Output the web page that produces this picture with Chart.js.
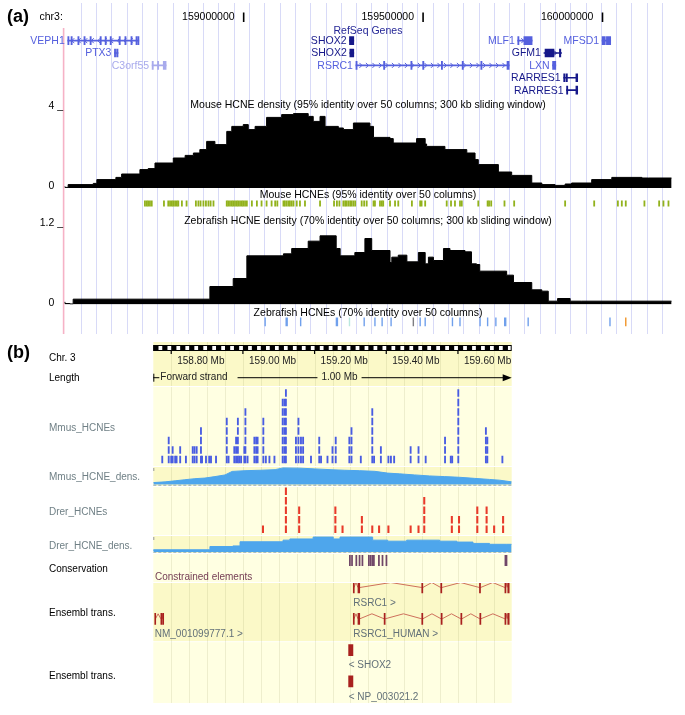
<!DOCTYPE html>
<html>
<head>
<meta charset="utf-8">
<script src="https://cdn.jsdelivr.net/npm/chart.js@4/dist/chart.umd.min.js"></script>
<style>
  body { margin: 0; background: #fff; width: 685px; height: 715px; position: relative; overflow: hidden; }
  canvas { position: absolute; left: 0; }
</style>
</head>
<body>
<script>
// ---- panel (a): UCSC view, positions in Mb on chr3 ----
const rulerTicksA = [159000000, 159500000, 160000000];

const geneNames = ["VEPH1", "PTX3", "C3orf55", "SHOX2", "SHOX2", "RSRC1", "MLF1", "MFSD1", "GFM1", "LXN", "RARRES1", "RARRES1"];
const geneRows = [0, 1, 2, 0, 1, 2, 0, 0, 1, 2, 3, 4];
const geneStarts = [158.510, 158.640, 158.745, 159.295, 159.296, 159.313, 159.764, 159.999, 159.837, 159.861, 159.892, 159.900];
const geneEnds = [158.708, 158.650, 158.784, 159.307, 159.307, 159.740, 159.804, 160.023, 159.886, 159.870, 159.931, 159.931];
const geneStrands = ["-", "", "+", "", "", "+", "+", "", "+", "", "-", "-"];
const geneShades = ["mid", "mid", "light", "dark", "dark", "mid", "mid", "mid", "dark", "mid", "dark", "dark"];
const geneExons = [
  [[158.510, 158.513], [158.519, 158.521], [158.538, 158.540], [158.555, 158.557], [158.572, 158.574], [158.600, 158.602], [158.614, 158.616], [158.628, 158.630], [158.653, 158.655], [158.669, 158.671], [158.686, 158.688], [158.700, 158.702], [158.705, 158.708]],
  [[158.640, 158.642], [158.646, 158.650]],
  [[158.745, 158.747], [158.760, 158.763], [158.776, 158.784]],
  [[159.295, 159.307]],
  [[159.296, 159.307]],
  [[159.313, 159.316], [159.390, 159.392], [159.466, 159.468], [159.499, 159.501], [159.551, 159.553], [159.609, 159.611], [159.661, 159.663], [159.734, 159.740]],
  [[159.764, 159.766], [159.781, 159.804]],
  [[159.999, 160.008], [160.011, 160.023]],
  [[159.840, 159.865], [159.880, 159.884]],
  [[159.861, 159.870]],
  [[159.892, 159.896], [159.899, 159.902], [159.926, 159.931]],
  [[159.900, 159.903], [159.926, 159.931]]
];

const mouseDensStarts = [158.502, 158.511, 158.581, 158.591, 158.644, 158.660, 158.711, 158.734, 158.753, 158.804, 158.837, 158.860, 158.878, 158.897, 158.920, 158.953, 158.967, 158.999, 159.013, 159.032, 159.064, 159.106, 159.139, 159.180, 159.194, 159.213, 159.227, 159.264, 159.278, 159.306, 159.352, 159.362, 159.408, 159.417, 159.482, 159.506, 159.510, 159.561, 159.622, 159.645, 159.654, 159.710, 159.747, 159.803, 159.831, 159.868, 159.896, 159.914, 159.970, 160.026, 160.110, 160.128];
const mouseDensValues = [0.08, 0.03, 0.17, 0.23, 0.42, 0.53, 0.70, 0.92, 0.97, 1.25, 1.50, 1.63, 1.75, 1.92, 2.33, 2.17, 2.83, 3.08, 3.17, 2.92, 3.08, 3.53, 3.67, 3.72, 3.58, 3.33, 3.58, 3.08, 3.00, 2.92, 3.25, 3.08, 2.53, 2.47, 2.25, 2.47, 2.20, 2.08, 1.92, 1.75, 1.42, 1.17, 0.80, 0.63, 0.25, 0.17, 0.13, 0.20, 0.25, 0.42, 0.53, 0.50];
const mouseDensTicks = [0, 4];

const mouseHcnePos = [158.725, 158.730, 158.734, 158.739, 158.744, 158.778, 158.790, 158.795, 158.800, 158.804, 158.809, 158.814, 158.818, 158.828, 158.841, 158.867, 158.874, 158.880, 158.888, 158.895, 158.902, 158.908, 158.916, 158.953, 158.957, 158.962, 158.967, 158.971, 158.976, 158.981, 158.985, 158.990, 158.995, 158.999, 159.004, 159.009, 159.023, 159.037, 159.050, 159.064, 159.078, 159.088, 159.094, 159.111, 159.115, 159.120, 159.125, 159.129, 159.134, 159.139, 159.148, 159.157, 159.171, 159.213, 159.252, 159.260, 159.267, 159.278, 159.283, 159.287, 159.292, 159.297, 159.301, 159.306, 159.311, 159.329, 159.336, 159.343, 159.362, 159.366, 159.380, 159.385, 159.389, 159.408, 159.422, 159.431, 159.469, 159.492, 159.496, 159.506, 159.566, 159.578, 159.589, 159.603, 159.608, 159.654, 159.680, 159.684, 159.690, 159.727, 159.754, 159.896, 159.977, 160.043, 160.054, 160.065, 160.117, 160.158, 160.170, 160.184];

const zebraDensStarts = [158.502, 158.516, 158.525, 158.906, 158.971, 159.009, 159.111, 159.134, 159.180, 159.213, 159.258, 159.269, 159.310, 159.338, 159.357, 159.408, 159.413, 159.431, 159.455, 159.487, 159.506, 159.515, 159.529, 159.557, 159.575, 159.617, 159.635, 159.649, 159.658, 159.733, 159.752, 159.803, 159.831, 159.849, 159.875, 159.910, 159.942];
const zebraDensValues = [0.04, 0.015, 0.008, 0.08, 0.27, 0.39, 0.73, 0.76, 0.84, 0.95, 1.03, 0.84, 0.73, 0.78, 0.99, 0.81, 0.63, 0.71, 0.74, 0.64, 0.78, 0.61, 0.71, 0.66, 0.84, 0.81, 0.79, 0.61, 0.60, 0.50, 0.44, 0.33, 0.22, 0.20, 0.05, 0.09, 0.05];
const zebraDensTicks = [0, 1.2];

const zebraHcnePos = [159.060, 159.120, 159.159, 159.260, 159.295, 159.336, 159.366, 159.386, 159.411, 159.473, 159.492, 159.506, 159.582, 159.603, 159.659, 159.680, 159.703, 159.729, 159.793, 160.021, 160.065];

// ---- panel (b): Ensembl view ----
const rulerTicksB = [158.8, 159.0, 159.2, 159.4, 159.6];

const mmusHcnePos = [158.775, 158.793, 158.800, 158.804, 158.811, 158.815, 158.825, 158.841, 158.860, 158.865, 158.871, 158.883, 158.886, 158.897, 158.906, 158.911, 158.925, 158.955, 158.960, 158.976, 158.981, 158.986, 158.990, 158.995, 159.004, 159.007, 159.013, 159.032, 159.037, 159.041, 159.057, 159.064, 159.074, 159.088, 159.111, 159.116, 159.120, 159.148, 159.155, 159.162, 159.168, 159.190, 159.213, 159.218, 159.236, 159.250, 159.259, 159.297, 159.303, 159.329, 159.361, 159.366, 159.385, 159.406, 159.413, 159.422, 159.468, 159.490, 159.510, 159.564, 159.580, 159.584, 159.601, 159.678, 159.682, 159.724];
const mmusHcneDepth = [1, 3, 1, 2, 1, 1, 2, 1, 2, 2, 2, 4, 1, 1, 1, 1, 1, 5, 1, 2, 3, 5, 1, 1, 2, 6, 1, 3, 3, 3, 5, 1, 1, 1, 7, 7, 8, 3, 5, 3, 3, 1, 3, 1, 1, 2, 3, 3, 4, 1, 6, 1, 2, 1, 1, 1, 2, 2, 1, 3, 1, 1, 8, 4, 3, 1];

const mmusDensBPos = [158.750, 158.783, 158.811, 158.838, 158.866, 158.894, 158.922, 158.950, 158.970, 159.006, 159.048, 159.090, 159.112, 159.159, 159.201, 159.243, 159.284, 159.326, 159.368, 159.404, 159.437, 159.479, 159.521, 159.563, 159.605, 159.646, 159.688, 159.716, 159.750];
const mmusDensBValues = [0.48, 0.64, 0.88, 1.12, 1.36, 1.50, 1.83, 2.20, 3.00, 3.17, 3.26, 3.40, 3.80, 3.74, 3.57, 3.40, 3.26, 3.17, 3.02, 2.62, 2.45, 2.21, 1.98, 1.83, 1.67, 1.43, 1.19, 1.02, 0.64];

const drerHcnePos = [159.056, 159.120, 159.157, 159.258, 159.278, 159.332, 159.361, 159.380, 159.406, 159.468, 159.490, 159.506, 159.583, 159.603, 159.654, 159.680, 159.701, 159.726];
const drerHcneDepth = [1, 5, 3, 3, 1, 2, 1, 1, 1, 1, 1, 4, 2, 2, 3, 3, 1, 2];

const drerDensBPos = [158.750, 158.908, 158.972, 158.992, 159.112, 159.131, 159.196, 159.252, 159.271, 159.362, 159.404, 159.457, 159.549, 159.597, 159.642, 159.688, 159.735];
const drerDensBValues = [0.08, 0.17, 0.39, 0.43, 0.71, 0.82, 0.90, 1.03, 0.90, 1.03, 0.82, 0.75, 0.82, 0.75, 0.69, 0.60, 0.54];

const consStarts = [159.297, 159.303, 159.315, 159.324, 159.332, 159.350, 159.355, 159.360, 159.364, 159.378, 159.388, 159.399, 159.731];
const consEnds = [159.300, 159.306, 159.318, 159.327, 159.335, 159.353, 159.358, 159.363, 159.367, 159.381, 159.391, 159.402, 159.737];

const trNames = ["RSRC1", "NM_001099777.1", "RSRC1_HUMAN", "SHOX2", "NP_003021.2"];
const trStrands = ["+", "+", "+", "-", "-"];
const trRows = [0, 1, 1, 2, 3];
const trExons = [
  [[159.308, 159.310], [159.321, 159.326], [159.499, 159.502], [159.552, 159.555], [159.660, 159.663], [159.731, 159.734], [159.739, 159.743]],
  [[158.754, 158.756], [158.771, 158.774], [158.776, 158.779]],
  [[159.308, 159.310], [159.321, 159.326], [159.394, 159.397], [159.499, 159.502], [159.553, 159.556], [159.608, 159.611], [159.661, 159.664], [159.731, 159.734], [159.739, 159.743]],
  [[159.295, 159.307]],
  [[159.295, 159.307]]
];

// ---- layout ----
const FONT = '"Liberation Sans", Arial, Helvetica, sans-serif';
const W = 685;
const A_MIN = 158.5, A_MAX = 160.193;
const B_MIN = 158.75, B_MAX = 159.75;
const padA = { left: 64.2, right: W - 671.7 };
const padB = { left: 153.3, right: W - 511.7 };
const SHADES = { mid: "rgb(85,96,222)", light: "rgb(168,170,236)", dark: "rgb(22,24,138)" };
const YELLOW = "rgb(251,249,200)";
const PALE = "rgb(255,255,226)";
const GRAYLABEL = "rgb(112,128,134)";

Chart.defaults.font.family = FONT;
Chart.defaults.animation = false;
Chart.defaults.responsive = false;
Chart.defaults.plugins.legend.display = false;
Chart.defaults.plugins.tooltip.enabled = false;

const xA = () => ({ type: "linear", min: A_MIN, max: A_MAX, display: false, offset: false });
const xB = () => ({ type: "linear", min: B_MIN, max: B_MAX, display: false, offset: false });

function makeCanvas(top, height) {
  const c = document.createElement("canvas");
  c.width = W;
  c.height = height;
  c.style.top = top + "px";
  c.dataset.top = top;
  document.body.appendChild(c);
  return c;
}

function stepPoints(starts, values, end) {
  const pts = starts.map((x, i) => ({ x, y: values[i] }));
  pts.push({ x: end, y: values[values.length - 1] });
  return pts;
}

function dashStack(pos, depth) {
  const out = [];
  pos.forEach((x, i) => {
    for (let r = 0; r < depth[i]; r++) out.push({ x, y: [r + 0.2, r + 0.92] });
  });
  return out;
}

function drawText(ctx, t, x, y, size, color, align, bold) {
  ctx.save();
  ctx.font = (bold ? "bold " : "") + size + "px " + FONT;
  ctx.fillStyle = color || "#000";
  ctx.textAlign = align || "left";
  ctx.textBaseline = "middle";
  ctx.fillText(t, x, y);
  ctx.restore();
}

// fixed texts, y given in page coordinates
const textsPlugin = {
  id: "texts",
  afterDraw(chart, args, opts) {
    const off = +chart.canvas.dataset.top;
    (opts.items || []).forEach((it) => {
      drawText(chart.ctx, it.t, it.x, it.y - off, it.size || 10, it.color, it.align, it.bold);
    });
  }
};

// UCSC guidelines + pink left border
const guidesA = {
  id: "guides",
  beforeDatasetsDraw(chart, args, opts) {
    const { ctx, chartArea, height } = chart;
    const top = opts.top || 0;
    ctx.save();
    ctx.strokeStyle = "rgb(216,218,247)";
    ctx.lineWidth = 1;
    for (let x = 80.7; x < chartArea.right; x += 15.3) {
      const px = Math.round(x) + 0.5;
      ctx.beginPath();
      ctx.moveTo(px, top);
      ctx.lineTo(px, height);
      ctx.stroke();
    }
    ctx.strokeStyle = "rgb(246,178,198)";
    ctx.lineWidth = 1.6;
    ctx.beginPath();
    ctx.moveTo(chartArea.left - 0.6, opts.pinkTop || 0);
    ctx.lineTo(chartArea.left - 0.6, height);
    ctx.stroke();
    ctx.restore();
  }
};

// left value labels of the UCSC wiggle tracks ("4 _")
const densTicksA = {
  id: "densTicks",
  afterDraw(chart, args, opts) {
    const { ctx, scales: { y } } = chart;
    ctx.save();
    ctx.font = "10.5px " + FONT;
    ctx.fillStyle = "#000";
    ctx.textAlign = "right";
    ctx.textBaseline = "alphabetic";
    (opts.values || []).forEach((v) => ctx.fillText(v + " _", 63, y.getPixelForValue(v) + 1));
    ctx.restore();
  }
};

const headerA = {
  id: "headerA",
  afterDraw(chart) {
    const { ctx, scales: { x } } = chart;
    drawText(ctx, "(a)", 7, 17, 18, "#000", "left", true);
    drawText(ctx, "chr3:", 39.5, 17.5, 10.5, "#000");
    rulerTicksA.forEach((v) => {
      const px = x.getPixelForValue(v / 1e6);
      drawText(ctx, String(v), px - 9, 17.5, 10.5, "#000", "right");
      ctx.fillStyle = "#000";
      ctx.fillRect(px - 0.75, 12.5, 1.6, 9.5);
    });
    drawText(ctx, "RefSeq Genes", (chart.chartArea.left + chart.chartArea.right) / 2, 30.7, 10.5, "rgb(36,38,150)", "center");
  }
};

const genesA = {
  id: "genesA",
  afterDatasetsDraw(chart) {
    const { ctx, scales: { x, y } } = chart;
    ctx.save();
    geneNames.forEach((name, i) => {
      const yc = y.getPixelForValue(geneRows[i]);
      const a = x.getPixelForValue(geneStarts[i]);
      const b = x.getPixelForValue(geneEnds[i]);
      const col = SHADES[geneShades[i]];
      drawText(ctx, name, a - 3, yc + 0.5, 10.5, col, "right");
      if (geneStrands[i] && b - a > 14) {
        const d = geneStrands[i] === "+" ? 1 : -1;
        ctx.strokeStyle = col;
        ctx.lineWidth = 1;
        for (let p = a + 5; p < b - 3; p += 6.5) {
          ctx.beginPath();
          ctx.moveTo(p - 1.5 * d, yc - 2.5);
          ctx.lineTo(p + 1 * d, yc);
          ctx.lineTo(p - 1.5 * d, yc + 2.5);
          ctx.stroke();
        }
      }
    });
    ctx.restore();
  }
};

// Ensembl track backgrounds + grid
const bandB = {
  id: "band",
  beforeDraw(chart, args, opts) {
    const { ctx, chartArea, height } = chart;
    const x = chart.scales.x;
    ctx.save();
    (opts.bands || [[0, height, opts.color]]).forEach((b) => {
      ctx.fillStyle = b[2];
      ctx.fillRect(chartArea.left, b[0], chartArea.right - chartArea.left, b[1] - b[0]);
    });
    ctx.strokeStyle = "rgba(150,150,100,0.16)";
    ctx.lineWidth = 1;
    for (let v = B_MIN + 0.05; v < B_MAX - 0.001; v += 0.05) {
      const px = Math.round(x.getPixelForValue(v)) + 0.5;
      ctx.beginPath();
      ctx.moveTo(px, 0);
      ctx.lineTo(px, height);
      ctx.stroke();
    }
    ctx.restore();
  }
};

const dashBase = {
  id: "dashBase",
  afterDatasetsDraw(chart) {
    const { ctx, chartArea } = chart;
    ctx.save();
    ctx.strokeStyle = "rgb(140,165,188)";
    ctx.lineWidth = 1;
    ctx.setLineDash([3, 2]);
    ctx.beginPath();
    ctx.moveTo(chartArea.left, chartArea.bottom + 0.5);
    ctx.lineTo(chartArea.right, chartArea.bottom + 0.5);
    ctx.stroke();
    ctx.setLineDash([]);
    ctx.strokeStyle = "rgb(150,150,150)";
    ctx.beginPath();
    ctx.moveTo(chartArea.left + 0.5, chartArea.top + 1);
    ctx.lineTo(chartArea.left + 0.5, chartArea.top + 4);
    ctx.stroke();
    ctx.restore();
  }
};

const rulerB = {
  id: "rulerB",
  afterDraw(chart) {
    const { ctx, scales: { x } } = chart;
    const off = +chart.canvas.dataset.top;
    const L = x.getPixelForValue(B_MIN), R = x.getPixelForValue(B_MAX);
    const y0 = 345 - off, y1 = 351 - off;
    ctx.save();
    ctx.fillStyle = "#fff";
    ctx.fillRect(L, y0, R - L, y1 - y0);
    ctx.fillStyle = "#000";
    for (let v = B_MIN; v < B_MAX - 1e-6; v += 0.025) {
      const a = x.getPixelForValue(v), b = x.getPixelForValue(Math.min(v + 0.0145, B_MAX));
      ctx.fillRect(a, y0, b - a, y1 - y0);
    }
    ctx.strokeStyle = "#000";
    ctx.lineWidth = 1;
    ctx.strokeRect(L + 0.5, y0 + 0.5, R - L - 1, y1 - y0 - 1);
    rulerTicksB.forEach((v) => {
      const p = x.getPixelForValue(v);
      ctx.fillRect(p - 0.6, y1, 1.2, 3);
      drawText(ctx, v.toFixed(2) + " Mb", p + 6, 361 - off, 10, "#222", "left");
    });
    // length row
    const yl = 377.7 - off;
    ctx.fillRect(L, yl - 4, 1, 8);
    ctx.fillRect(L, yl - 0.5, 6, 1);
    ctx.font = "10px " + FONT;
    const fw = ctx.measureText("Forward strand").width;
    drawText(ctx, "Forward strand", L + 7, yl, 10, "#222", "left");
    const len = (B_MAX - B_MIN).toFixed(2) + " Mb";
    const lw = ctx.measureText(len).width;
    const cx = x.getPixelForValue((B_MIN + B_MAX) / 2) + 7;
    drawText(ctx, len, cx, yl, 10, "#222", "center");
    ctx.fillRect(L + 7 + fw + 10, yl - 0.5, cx - lw / 2 - 4 - (L + 7 + fw + 10), 1);
    ctx.fillRect(cx + lw / 2 + 4, yl - 0.5, R - 8 - (cx + lw / 2 + 4), 1);
    ctx.beginPath();
    ctx.moveTo(R - 9, yl - 3.5);
    ctx.lineTo(R, yl);
    ctx.lineTo(R - 9, yl + 3.5);
    ctx.closePath();
    ctx.fill();
    ctx.restore();
  }
};

const transDecor = {
  id: "transDecor",
  beforeDatasetsDraw(chart) {
    const { ctx, scales: { x, y } } = chart;
    ctx.save();
    ctx.strokeStyle = "rgb(206,112,92)";
    ctx.lineWidth = 1;
    trExons.forEach((ex, i) => {
      const yc = y.getPixelForValue(trRows[i]);
      for (let k = 0; k + 1 < ex.length; k++) {
        const a = x.getPixelForValue(ex[k][1]), b = x.getPixelForValue(ex[k + 1][0]);
        ctx.beginPath();
        ctx.moveTo(a, yc);
        ctx.lineTo((a + b) / 2, yc - 5);
        ctx.lineTo(b, yc);
        ctx.stroke();
      }
    });
    ctx.restore();
  },
  afterDatasetsDraw(chart) {
    const { ctx, scales: { x, y } } = chart;
    trNames.forEach((n, i) => {
      const label = trStrands[i] === "+" ? n + " >" : "< " + n;
      const yc = y.getPixelForValue(trRows[i]);
      drawText(ctx, label, x.getPixelForValue(trExons[i][0][0]), yc + 15.5, 10, "rgb(98,112,120)", "left");
    });
  }
};

// ---------- panel (a) ----------
const rowsA = ["r0", "r1", "r2", "r3", "r4"];
const exonBars = [], exonColors = [];
geneExons.forEach((list, i) => list.forEach((e) => {
  exonBars.push({ y: rowsA[geneRows[i]], x: e });
  exonColors.push(SHADES[geneShades[i]]);
}));

new Chart(makeCanvas(0, 97), {
  type: "bar",
  data: {
    labels: rowsA,
    datasets: [
      {
        data: geneNames.map((n, i) => ({ y: rowsA[geneRows[i]], x: [geneStarts[i], geneEnds[i]] })),
        backgroundColor: geneNames.map((n, i) => SHADES[geneShades[i]]),
        barThickness: 1, grouped: false
      },
      { data: exonBars, backgroundColor: exonColors, barThickness: 8, grouped: false, minBarLength: 1.2 }
    ]
  },
  options: {
    indexAxis: "y",
    layout: { padding: { left: padA.left, right: padA.right, top: 34.5, bottom: 0.7 } },
    scales: { x: xA(), y: { display: false } },
    plugins: { guides: { top: 3, pinkTop: 28 } }
  },
  plugins: [guidesA, headerA, genesA]
});

new Chart(makeCanvas(97, 93), {
  type: "line",
  data: {
    datasets: [{
      data: stepPoints(mouseDensStarts, mouseDensValues, A_MAX),
      stepped: "after", fill: "origin", backgroundColor: "#000", borderColor: "#000",
      borderWidth: 1, pointRadius: 0
    }]
  },
  options: {
    layout: { padding: { left: padA.left, right: padA.right, top: 11, bottom: 2 } },
    scales: { x: xA(), y: { min: 0, max: 4, display: false } },
    plugins: {
      densTicks: { values: mouseDensTicks },
      texts: { items: [{ t: "Mouse HCNE density (95% identity over 50 columns; 300 kb sliding window)", x: 368, y: 105, size: 10.5, align: "center" }] }
    }
  },
  plugins: [guidesA, densTicksA, textsPlugin]
});

new Chart(makeCanvas(190, 24), {
  type: "scatter",
  data: {
    datasets: [{
      data: mouseHcnePos.map((x) => ({ x, y: 0.5 })),
      pointStyle: "line", pointRotation: 90, pointRadius: 5.6, pointBorderWidth: 1.8,
      pointBorderColor: "rgb(146,178,28)", borderColor: "rgb(146,178,28)"
    }]
  },
  options: {
    layout: { padding: { left: padA.left, right: padA.right, top: 10.5, bottom: 2 } },
    scales: { x: xA(), y: { min: 0, max: 1, display: false } },
    plugins: { texts: { items: [{ t: "Mouse HCNEs (95% identity over 50 columns)", x: 368, y: 195.5, size: 10.5, align: "center" }] } }
  },
  plugins: [guidesA, textsPlugin]
});

new Chart(makeCanvas(214, 92), {
  type: "line",
  data: {
    datasets: [{
      data: stepPoints(zebraDensStarts, zebraDensValues, A_MAX),
      stepped: "after", fill: "origin", backgroundColor: "#000", borderColor: "#000",
      borderWidth: 1, pointRadius: 0
    }]
  },
  options: {
    layout: { padding: { left: padA.left, right: padA.right, top: 10.5, bottom: 1.5 } },
    scales: { x: xA(), y: { min: 0, max: 1.2, display: false } },
    plugins: {
      densTicks: { values: zebraDensTicks },
      texts: { items: [{ t: "Zebrafish HCNE density (70% identity over 50 columns; 300 kb sliding window)", x: 368, y: 221, size: 10.5, align: "center" }] }
    }
  },
  plugins: [guidesA, densTicksA, textsPlugin]
});

const zebraTickColors = zebraHcnePos.map((p) =>
  p === 159.295 ? "rgb(186,232,222)" : p === 159.473 ? "rgb(125,125,130)" : p === 160.065 ? "rgb(240,148,40)" : "rgb(112,160,236)");
const zebraTickWidths = zebraHcnePos.map((p) => (p === 159.120 || p === 159.260 || p === 159.729 ? 2.4 : 1.4));

new Chart(makeCanvas(306, 28), {
  type: "scatter",
  data: {
    datasets: [{
      data: zebraHcnePos.map((x) => ({ x, y: 0.5 })),
      pointStyle: "line", pointRotation: 90, pointRadius: 5.3,
      pointBorderWidth: zebraTickWidths, pointBorderColor: zebraTickColors, borderColor: zebraTickColors
    }]
  },
  options: {
    layout: { padding: { left: padA.left, right: padA.right, top: 11.5, bottom: 5.5 } },
    scales: { x: xA(), y: { min: 0, max: 1, display: false } },
    plugins: { texts: { items: [{ t: "Zebrafish HCNEs (70% identity over 50 columns)", x: 368, y: 313.5, size: 10.5, align: "center" }] } }
  },
  plugins: [guidesA, textsPlugin]
});

// ---------- panel (b) ----------
new Chart(makeCanvas(342, 44), {
  type: "scatter",
  data: { datasets: [{ data: [] }] },
  options: {
    layout: { padding: { left: padB.left, right: padB.right, top: 0, bottom: 0 } },
    scales: { x: xB(), y: { min: 0, max: 1, display: false } },
    plugins: {
      band: { color: YELLOW },
      texts: { items: [
        { t: "(b)", x: 7, y: 353, size: 18, bold: true },
        { t: "Chr. 3", x: 49, y: 358, size: 10 },
        { t: "Length", x: 49, y: 378, size: 10 }
      ] }
    }
  },
  plugins: [bandB, rulerB, textsPlugin]
});

new Chart(makeCanvas(387, 79), {
  type: "bar",
  data: { datasets: [{ data: dashStack(mmusHcnePos, mmusHcneDepth), backgroundColor: "rgb(72,92,226)", barThickness: 1.2, grouped: false }] },
  options: {
    layout: { padding: { left: padB.left, right: padB.right, top: 0, bottom: 1.2 } },
    scales: { x: xB(), y: { min: 0, max: 8.2, display: false } },
    plugins: { band: { color: PALE }, texts: { items: [{ t: "Mmus_HCNEs", x: 49, y: 428.5, size: 10, color: GRAYLABEL }] } }
  },
  plugins: [bandB, textsPlugin]
});

new Chart(makeCanvas(467, 19), {
  type: "line",
  data: {
    datasets: [{
      data: mmusDensBPos.map((x, i) => ({ x, y: mmusDensBValues[i] })),
      fill: "origin", backgroundColor: "rgb(78,166,236)", borderColor: "rgb(78,166,236)", borderWidth: 1, pointRadius: 0
    }]
  },
  options: {
    layout: { padding: { left: padB.left, right: padB.right, top: 0, bottom: 1.3 } },
    scales: { x: xB(), y: { min: 0, max: 4, display: false } },
    plugins: { band: { color: YELLOW }, texts: { items: [{ t: "Mmus_HCNE_dens.", x: 49, y: 477, size: 10, color: GRAYLABEL }] } }
  },
  plugins: [bandB, dashBase, textsPlugin]
});

new Chart(makeCanvas(487, 48), {
  type: "bar",
  data: { datasets: [{ data: dashStack(drerHcnePos, drerHcneDepth), backgroundColor: "rgb(232,58,42)", barThickness: 1.4, grouped: false }] },
  options: {
    layout: { padding: { left: padB.left, right: padB.right, top: 0, bottom: 0.5 } },
    scales: { x: xB(), y: { min: 0, max: 5, display: false } },
    plugins: { band: { color: PALE }, texts: { items: [{ t: "Drer_HCNEs", x: 49, y: 512, size: 10, color: GRAYLABEL }] } }
  },
  plugins: [bandB, textsPlugin]
});

new Chart(makeCanvas(536, 17), {
  type: "line",
  data: {
    datasets: [{
      data: stepPoints(drerDensBPos, drerDensBValues, B_MAX),
      stepped: "after", fill: "origin", backgroundColor: "rgb(78,166,236)", borderColor: "rgb(78,166,236)", borderWidth: 1, pointRadius: 0
    }]
  },
  options: {
    layout: { padding: { left: padB.left, right: padB.right, top: 0, bottom: 0.7 } },
    scales: { x: xB(), y: { min: 0, max: 1.1, display: false } },
    plugins: { band: { color: YELLOW }, texts: { items: [{ t: "Drer_HCNE_dens.", x: 49, y: 546, size: 10, color: GRAYLABEL }] } }
  },
  plugins: [bandB, dashBase, textsPlugin]
});

new Chart(makeCanvas(554, 28), {
  type: "bar",
  data: {
    labels: ["cons"],
    datasets: [{
      data: consStarts.map((s, i) => ({ y: "cons", x: [s, consEnds[i]] })),
      backgroundColor: "rgb(112,70,104)", barThickness: 11, grouped: false, minBarLength: 1
    }]
  },
  options: {
    indexAxis: "y",
    layout: { padding: { left: padB.left, right: padB.right, top: 1, bottom: 16 } },
    scales: { x: xB(), y: { display: false } },
    plugins: {
      band: { color: PALE },
      texts: { items: [
        { t: "Conservation", x: 49, y: 569.5, size: 10 },
        { t: "Constrained elements", x: 155, y: 577.5, size: 10, color: "rgb(118,64,86)" }
      ] }
    }
  },
  plugins: [bandB, textsPlugin]
});

const trBars = [];
trExons.forEach((ex, i) => ex.forEach((e) => trBars.push({ y: trRows[i], x: e })));

new Chart(makeCanvas(583, 120), {
  type: "bar",
  data: {
    datasets: [{
      data: trBars, backgroundColor: "rgb(168,32,30)", borderColor: "rgb(140,20,20)", borderWidth: 0,
      barThickness: 11, grouped: false, minBarLength: 1
    }]
  },
  options: {
    indexAxis: "y",
    layout: { padding: { left: padB.left, right: padB.right, top: 0, bottom: 0 } },
    scales: { x: xB(), y: { type: "linear", reverse: true, min: -0.144, max: 3.69, display: false, offset: false } },
    plugins: {
      band: { bands: [[0, 58.2, YELLOW], [59.2, 120, PALE]] },
      texts: { items: [
        { t: "Ensembl trans.", x: 49, y: 613.5, size: 10 },
        { t: "Ensembl trans.", x: 49, y: 676, size: 10 }
      ] }
    }
  },
  plugins: [bandB, transDecor, textsPlugin]
});
</script>
</body>
</html>
